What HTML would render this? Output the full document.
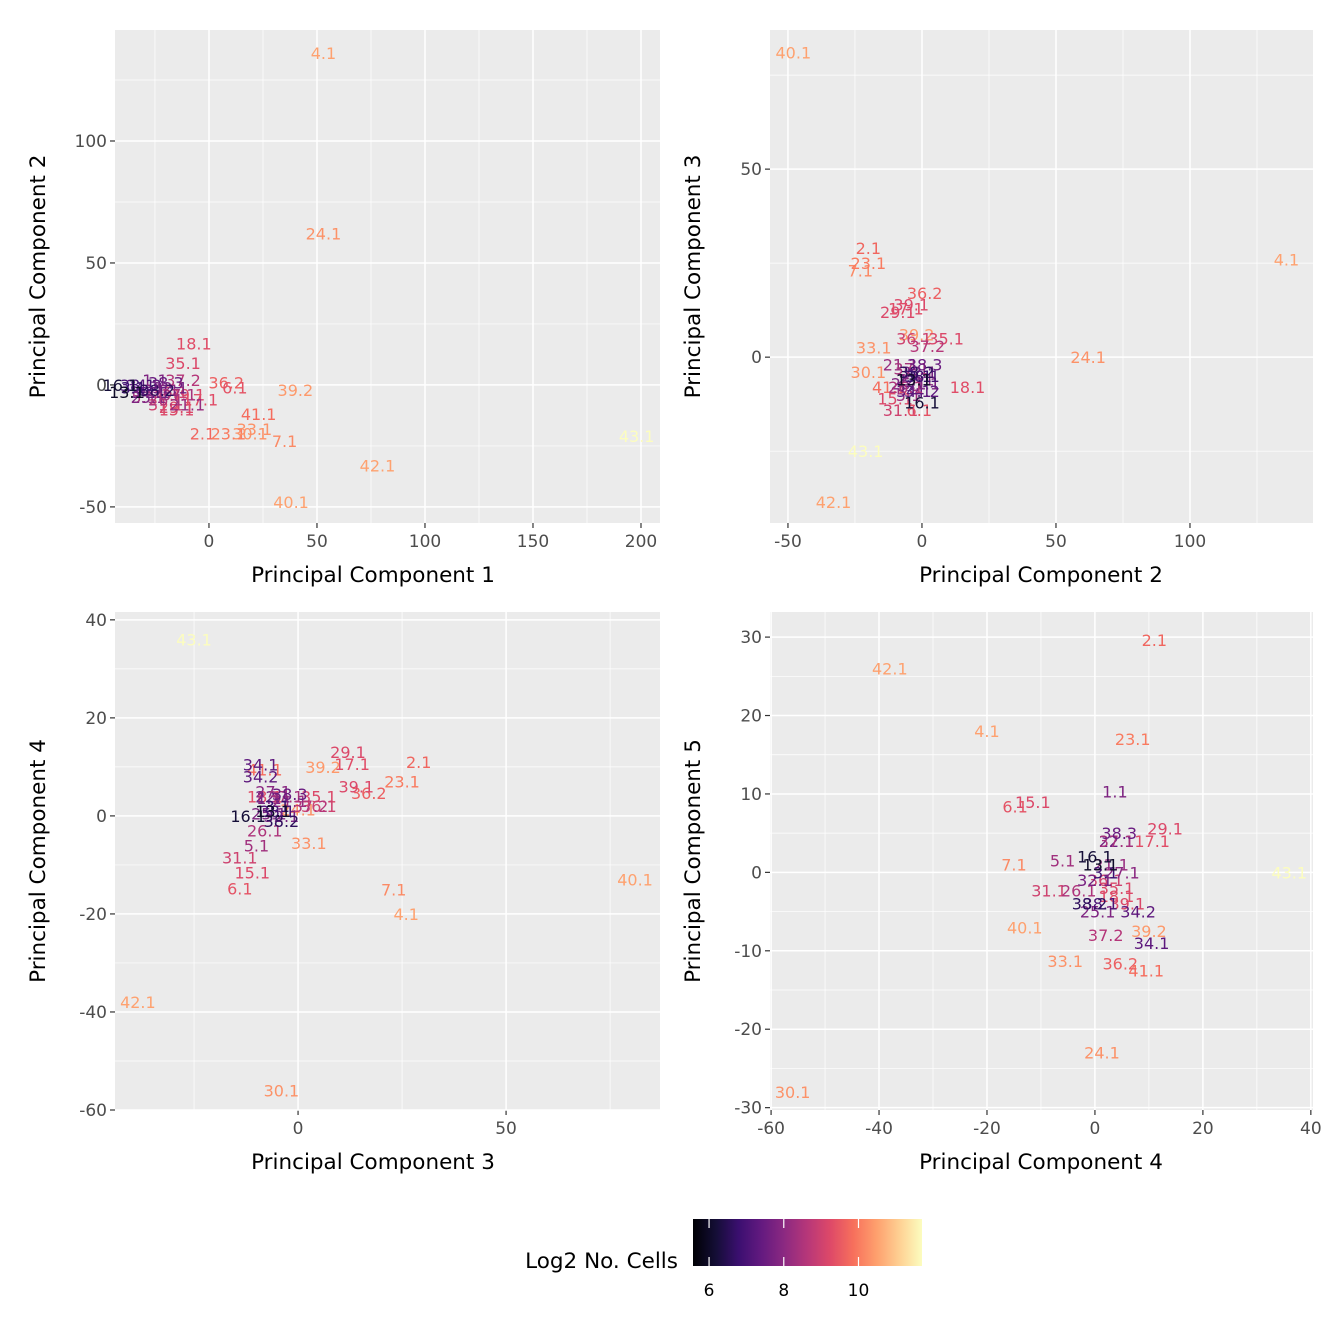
<!DOCTYPE html>
<html><head><meta charset="utf-8"><style>
html,body{margin:0;padding:0;background:#fff;}
svg{display:block;font-family:"DejaVu Sans","Liberation Sans",sans-serif;}
</style></head><body>
<svg id="chart" width="1344" height="1344" viewBox="0 0 1344 1344" xmlns="http://www.w3.org/2000/svg">
<defs>
<linearGradient id="magma" x1="0" x2="1" y1="0" y2="0">
<stop offset="0" stop-color="#000004"/><stop offset="0.1" stop-color="#140e36"/><stop offset="0.2" stop-color="#3b0f70"/><stop offset="0.3" stop-color="#641a80"/><stop offset="0.4" stop-color="#8c2981"/><stop offset="0.5" stop-color="#b73779"/><stop offset="0.6" stop-color="#de4968"/><stop offset="0.7" stop-color="#f7705c"/><stop offset="0.8" stop-color="#fe9f6d"/><stop offset="0.9" stop-color="#fecf92"/><stop offset="1" stop-color="#fcfdbf"/>
</linearGradient>
</defs>
<g id="root"></g>
<g>
<text x="678" y="1268" text-anchor="end" font-size="21.5" fill="#000">Log2 No. Cells</text>
<rect x="693" y="1219" width="229" height="47" fill="url(#magma)"/>
<g id="cbticks"></g>
</g>
</svg>
<script>
const labels = ["4.1","24.1","43.1","42.1","40.1","30.1","7.1","2.1","23.1","39.2","41.1","33.1","36.2","39.1","29.1","17.1","18.1","35.1","36.1","31.1","15.1","6.1","5.1","1.1","34.1","34.2","25.1","26.1","21.1","22.1","27.1","32.1","37.1","37.2","38.1","38.2","38.3","16.1","3.1","13.1"];
const pc1 = [53,53,198,78,38,19,35,-3,9,40,23,21,8,-10,-15,-4,-7,-12,-18,-20,-15,12,-30,-25,-28,-30,-28,-20,-10,-26,-22,-18,-14,-12,-33,-24,-20,-41,-35,-38];
const pc2 = [136,62,-21,-33,-48,-20,-23,-20,-20,-2,-12,-18,1,-4,-9,-6,17,9,-3,-8,-10,-1,-5,2,-3,0,-5,-6,-8,-3,-2,-1,-4,2,0,-2,1,0,-1,-3];
const pc3 = [26,0,-25,-38.5,81,-4,23,29,25,6,-8,2.6,17,14,12,13,-8,5,5,-14,-11,-14,-10,-7,-9,-9,-7,-8,-2,-6,-6,-4,-3,3,-5,-4,-2,-12,-5,-6];
const pc4 = [-20,1.3,36,-38,-13,-56,-15,11,7,10,9.5,-5.5,4.7,6,13,10.6,4,4,2,-8.5,-11.5,-14.8,-6,3.7,10.5,8,0.5,-3,3,4,5,0,4,2,1,-1,4.5,0,2,1];
const pc5 = [18,-23,0,26,-7,-28,1,29.6,17,-7.5,-12.5,-11.3,-11.6,-4,5.6,4,-3,-2,-1,-2.3,9,8.4,1.5,10.3,-9,-5,-5,-2.3,1,4,0,-1,4,-8,-4,-4,5,2,0,1];
const cells = [10.5,10.3,11.8,10.5,10.5,10.3,10.2,9.7,10,10.4,9.8,10.3,9.6,9.2,9.2,9.3,9.3,9.2,9.0,9.0,9.2,9.4,8.3,7.8,7.3,7.3,7.8,8.5,8.2,7.6,8.0,7.7,8.4,8.6,7.0,6.6,7.5,6.2,6.8,6.0];
const cbTicks = [6,8,10];

const NS="http://www.w3.org/2000/svg";
const root=document.getElementById('root');
function el(tag,attrs,parent){const e=document.createElementNS(NS,tag);for(const k in attrs)e.setAttribute(k,attrs[k]);(parent||root).appendChild(e);return e;}
const stops=["#000004","#140e36","#3b0f70","#641a80","#8c2981","#b73779","#de4968","#f7705c","#fe9f6d","#fecf92","#fcfdbf"];
const cmin=5.57,cmax=11.7;
function hex(h){return [1,3,5].map(i=>parseInt(h.substr(i,2),16));}
function color(v){let t=Math.max(0,Math.min(1,(v-cmin)/(cmax-cmin)))*10;let i=Math.min(9,Math.floor(t));let f=t-i;const a=hex(stops[i]),b=hex(stops[i+1]);return 'rgb('+a.map((c,j)=>Math.round(c+(b[j]-c)*f)).join(',')+')';}

const panels=[
 {name:'pc1-vs-pc2',xs:pc1,ys:pc2,x0:115,x1:660,y0:30,y1:523,tx:373,xd:[-43.5,208.8],yd:[-56.6,145.5],xmaj:[0,50,100,150,200],xmin:[-25,25,75,125,175],ymaj:[-50,0,50,100],ymin:[-25,25,75,125],xt:'Principal Component 1',yt:'Principal Component 2'},
 {name:'pc2-vs-pc3',xs:pc2,ys:pc3,x0:770,x1:1313,y0:30,y1:523,tx:1041,xd:[-56.7,145.9],yd:[-44.1,87],xmaj:[-50,0,50,100],xmin:[-25,25,75,125],ymaj:[0,50],ymin:[-25,25,75],xt:'Principal Component 2',yt:'Principal Component 3'},
 {name:'pc3-vs-pc4',xs:pc3,ys:pc4,x0:115,x1:660,y0:612,y1:1110,tx:373,xd:[-44,87],yd:[-60,41.6],xmaj:[0,50],xmin:[-25,25,75],ymaj:[-60,-40,-20,0,20,40],ymin:[-50,-30,-10,10,30],xt:'Principal Component 3',yt:'Principal Component 4'},
 {name:'pc4-vs-pc5',xs:pc4,ys:pc5,x0:770,x1:1313,y0:612,y1:1110,tx:1041,xd:[-60.2,40.4],yd:[-30.3,33.2],xmaj:[-60,-40,-20,0,20,40],xmin:[-50,-30,-10,10,30],ymaj:[-30,-20,-10,0,10,20,30],ymin:[-25,-15,-5,5,15,25],xt:'Principal Component 4',yt:'Principal Component 5'}
];
panels.forEach(p=>{
 const sx=v=>p.x0+(v-p.xd[0])/(p.xd[1]-p.xd[0])*(p.x1-p.x0);
 const sy=v=>p.y1-(v-p.yd[0])/(p.yd[1]-p.yd[0])*(p.y1-p.y0);
 const g=el('g',{});
 
 
 const bg=el('rect',{x:p.x0,y:p.y0,width:p.x1-p.x0,height:p.y1-p.y0,fill:'#EBEBEB'},g);
 
 
 p.xmin.forEach(v=>{const x=sx(v);if(x>p.x0&&x<p.x1){const l=el('line',{x1:x,x2:x,y1:p.y0,y2:p.y1,stroke:'#fff','stroke-width':0.7},g);}});
 p.ymin.forEach(v=>{const y=sy(v);if(y>p.y0&&y<p.y1){const l=el('line',{x1:p.x0,x2:p.x1,y1:y,y2:y,stroke:'#fff','stroke-width':0.7},g);}});
 p.xmaj.forEach(v=>{const x=sx(v);
  const l=el('line',{x1:x,x2:x,y1:p.y0,y2:p.y1,stroke:'#fff','stroke-width':1.5},g);
  const t=el('line',{x1:x,x2:x,y1:p.y1,y2:p.y1+5,stroke:'#333','stroke-width':1.2},g);
  const tx=el('text',{x:x,y:p.y1+24,'text-anchor':'middle','font-size':17,fill:'#4D4D4D'},g);tx.textContent=v;});
 p.ymaj.forEach(v=>{const y=sy(v);
  const l=el('line',{x1:p.x0,x2:p.x1,y1:y,y2:y,stroke:'#fff','stroke-width':1.5},g);
  const t=el('line',{x1:p.x0-5,x2:p.x0,y1:y,y2:y,stroke:'#333','stroke-width':1.2},g);
  const tx=el('text',{x:p.x0-8,y:y+6,'text-anchor':'end','font-size':17,fill:'#4D4D4D'},g);tx.textContent=v;});
 const xt=el('text',{x:p.tx,y:p.y1+59,'text-anchor':'middle','font-size':21.5,fill:'#000'},g);xt.textContent=p.xt;
 
 
 const yx=p.x0-70,yy=(p.y0+p.y1)/2;
 const yt=el('text',{x:yx,y:yy,'text-anchor':'middle','font-size':21.5,fill:'#000',transform:'rotate(-90 '+yx+' '+yy+')'},g);yt.textContent=p.yt;
 
 
 labels.forEach((lab,i)=>{
  const t=el('text',{x:sx(p.xs[i]),y:sy(p.ys[i])+6,'text-anchor':'middle','font-size':16,fill:color(cells[i])},g);
  t.textContent=lab;
  
  
 });
});
const cb=document.getElementById('cbticks');
cbTicks.forEach(v=>{
 const x=693+(v-cmin)/(cmax-cmin)*229;
 const a=el('line',{x1:x,x2:x,y1:1219,y2:1228,stroke:'#fff','stroke-width':1.2},cb);
 
 
 const b=el('line',{x1:x,x2:x,y1:1257,y2:1266,stroke:'#fff','stroke-width':1.2},cb);
 
 
 const t=el('text',{x:x,y:1296,'text-anchor':'middle','font-size':17,fill:'#000'},cb);
 t.textContent=v;
 
 
});
</script>
</body></html>
